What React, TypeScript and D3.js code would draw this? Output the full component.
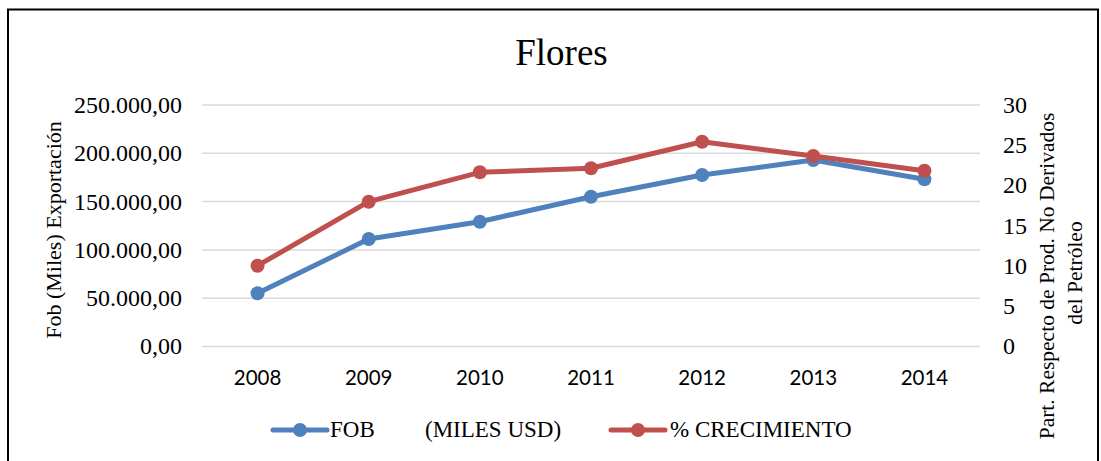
import React from "react";
import * as d3 from "d3";

const years = ["2008", "2009", "2010", "2011", "2012", "2013", "2014"];
const fobValues = [55070, 111280, 129190, 155070, 177530, 193060, 173080];
const growthValues = [10.04, 17.99, 21.64, 22.14, 25.44, 23.66, 21.84];
const leftTicks = [0, 50000, 100000, 150000, 200000, 250000];
const rightTicks = [0, 5, 10, 15, 20, 25, 30];

const BLUE = "#4F81BD";
const RED = "#C0504D";
const SERIF = "'Liberation Serif', 'Times New Roman', serif";
const SANS = "Lato, 'Open Sans', sans-serif";

const locale = d3.formatLocale({ decimal: ",", thousands: ".", grouping: [3], currency: ["", ""] });
const fmt = locale.format(",.2f");

export default function App() {
  const W = 1101, H = 461;
  const x = d3.scaleBand<string>().domain(years).range([202, 980]);
  const cx = (d: string) => (x(d) as number) + x.bandwidth() / 2;
  const yL = d3.scaleLinear().domain([0, 250000]).range([346.5, 105]);
  const yR = d3.scaleLinear().domain([0, 30]).range([346.5, 105]);

  const lineL = d3.line<number>().x((_, i) => cx(years[i])).y((d) => yL(d));
  const lineR = d3.line<number>().x((_, i) => cx(years[i])).y((d) => yR(d));

  return (
    <svg width={W} height={H} style={{ position: "absolute", left: 0, top: 0, background: "#fff" }}>
      <rect x={0} y={0} width={W} height={H} fill="#fff" />
      <rect x={8} y={9.5} width={1090} height={460} fill="none" stroke="#000" strokeWidth={2} />
      <text x={561.5} y={65} textAnchor="middle" fontFamily={SERIF} fontSize={37} fill="#000">Flores</text>

      {leftTicks.map((t) => (
        <line key={"g" + t} x1={202} x2={980} y1={yL(t)} y2={yL(t)} stroke="#D9D9D9" strokeWidth={1.5} />
      ))}
      {leftTicks.map((t) => (
        <text key={"l" + t} x={182} y={yL(t)} dy="0.33em" textAnchor="end" fontFamily={SERIF} fontSize={24} fill="#000">
          {fmt(t)}
        </text>
      ))}
      {rightTicks.map((t) => (
        <text key={"r" + t} x={1003} y={yR(t)} dy="0.33em" textAnchor="start" fontFamily={SERIF} fontSize={24} fill="#000">
          {t}
        </text>
      ))}
      {years.map((yr) => (
        <text key={"x" + yr} x={cx(yr)} y={385} textAnchor="middle" fontFamily={SANS} fontSize={20.5} fill="#000">
          {yr}
        </text>
      ))}

      <text transform="translate(61,230) rotate(-90)" textAnchor="middle" fontFamily={SERIF} fontSize={22} fill="#000">
        Fob (Miles) Exportación
      </text>
      <text transform="translate(1054,276) rotate(-90)" textAnchor="middle" fontFamily={SERIF} fontSize={21.5} fill="#000">
        Part. Respecto de Prod. No Derivados
      </text>
      <text transform="translate(1082,273) rotate(-90)" textAnchor="middle" fontFamily={SERIF} fontSize={21.5} fill="#000">
        del Petróleo
      </text>

      <path d={lineL(fobValues) || ""} fill="none" stroke={BLUE} strokeWidth={5} strokeLinejoin="round" strokeLinecap="round" />
      {fobValues.map((v, i) => (
        <circle key={"b" + i} cx={cx(years[i])} cy={yL(v)} r={7} fill={BLUE} />
      ))}
      <path d={lineR(growthValues) || ""} fill="none" stroke={RED} strokeWidth={5} strokeLinejoin="round" strokeLinecap="round" />
      {growthValues.map((v, i) => (
        <circle key={"rc" + i} cx={cx(years[i])} cy={yR(v)} r={7} fill={RED} />
      ))}

      <line x1={273} x2={327} y1={430} y2={430} stroke={BLUE} strokeWidth={5} strokeLinecap="round" />
      <circle cx={300} cy={430} r={7} fill={BLUE} />
      <text x={330} y={437} fontFamily={SERIF} fontSize={23} fill="#000">FOB</text>
      <text x={425} y={437} fontFamily={SERIF} fontSize={23} fill="#000">(MILES USD)</text>

      <line x1={611} x2={665} y1={430} y2={430} stroke={RED} strokeWidth={5} strokeLinecap="round" />
      <circle cx={638} cy={430} r={7} fill={RED} />
      <text x={670} y={437} fontFamily={SERIF} fontSize={23} fill="#000">% CRECIMIENTO</text>
    </svg>
  );
}
